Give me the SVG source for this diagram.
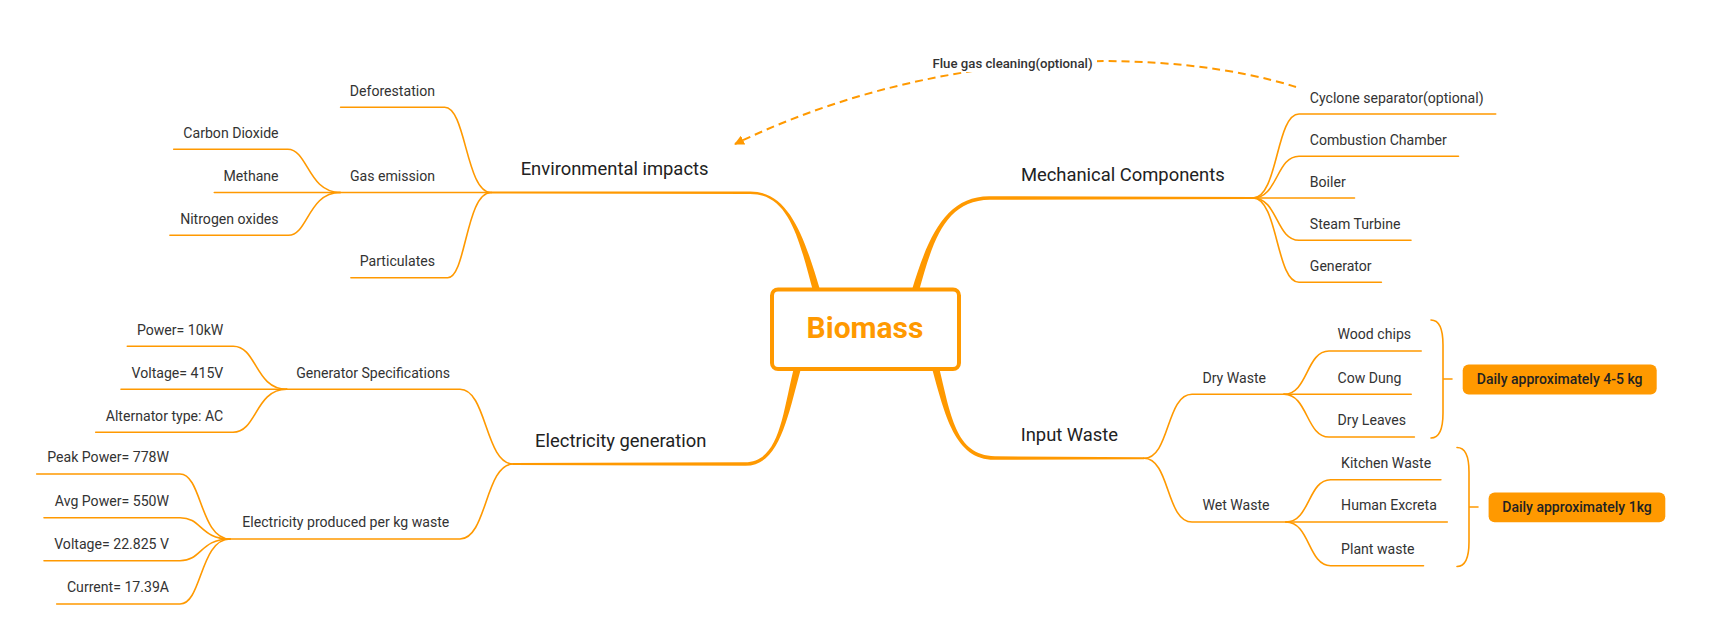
<svg xmlns="http://www.w3.org/2000/svg" width="1718" height="631" viewBox="0 0 1718 631">
<style>
.ln{fill:none;stroke:#FF9900;stroke-width:1.6;stroke-linecap:round}
.tr{fill:#FF9900;stroke:none}
.t{font-family:Roboto,"Liberation Sans",sans-serif;font-size:14.1px;fill:#333}
.e{text-anchor:end}
.m{font-family:Roboto,"Liberation Sans",sans-serif;font-size:18.4px;fill:#222;text-anchor:middle}
.tag{fill:#FF9900;stroke:none}
.tagt{font-family:Roboto,"Liberation Sans",sans-serif;font-size:14px;font-weight:500;fill:#222;text-anchor:middle}
</style>
<defs>
<marker id="arr" viewBox="0 0 10 10" refX="9" refY="5" markerWidth="5" markerHeight="5" orient="auto" markerUnits="strokeWidth">
<path d="M0,0 L10,5 L0,10 Z" fill="#FF9900"/>
</marker>
</defs>
<rect width="1718" height="631" fill="#fff"/>
<g id="connectors">
<path class="tr" d="M820.4,291 C804.8,239.2 790,191.2 750,191.4 L491,191.5 L491,193.5 L750,193.9 C790,193.8 799.2,240.8 813.6,293 Z"/>
<path class="tr" d="M918.4,293 C932.8,240.8 945,200.3 990,199.75 L1253,199 L1253,197 L990,196.25 C945,195.7 927.2,239.2 911.6,291 Z"/>
<path class="tr" d="M794.6,365.1 C782.2,414.3 780,461.7 745,462.25 L513,463 L513,465 L745,465.75 C780,466.3 787.8,415.7 801.4,366.9 Z"/>
<path class="tr" d="M931.6,366.9 C945.2,415.8 955,460.3 995,459.75 L1144,459.3 L1144,457.3 L995,456.25 C955,455.7 950.8,414.2 938.4,365.1 Z"/>
<path class="ln" d="M491,192.5 C466,192.5 466,107.3 444.7,107.3 H340.6"/>
<path class="ln" d="M491,192.5 H340.2"/>
<path class="ln" d="M491,192.5 C466,192.5 466,277.7 447.7,277.7 H350.9"/>
<path class="ln" d="M340.2,192.5 C308,192.5 308,149.3 287.8,149.3 H173.7"/>
<path class="ln" d="M340.2,192.5 H214.3"/>
<path class="ln" d="M340.2,192.5 C308,192.5 308,235.3 288.5,235.3 H169.9"/>
<path class="ln" d="M1253,198 C1278,198 1276,114 1299,114 H1495.7"/>
<path class="ln" d="M1253,198 C1278,198 1276,156.3 1299,156.3 H1458.5"/>
<path class="ln" d="M1253,198 H1354.5"/>
<path class="ln" d="M1253,198 C1278,198 1276,240.3 1299,240.3 H1411"/>
<path class="ln" d="M1253,198 C1278,198 1276,282.3 1299,282.3 H1381.4"/>
<path class="ln" d="M513.3,464 C485,464 487,389.3 460,389.3 H286.7"/>
<path class="ln" d="M513.3,464 C485,464 487,539 460,539 H230"/>
<path class="ln" d="M286.7,389.3 C255,389.3 257,346.3 233.3,346.3 H127.3"/>
<path class="ln" d="M286.7,389.3 H121"/>
<path class="ln" d="M286.7,389.3 C255,389.3 257,432.3 233,432.3 H95.7"/>
<path class="ln" d="M230,539 C200,539 202,474 180,474 H36.7"/>
<path class="ln" d="M230,539 C200,539 202,517.7 180,517.7 H44"/>
<path class="ln" d="M230,539 C200,539 202,560.7 180,560.7 H44"/>
<path class="ln" d="M230,539 C200,539 202,604 180,604 H56.7"/>
<path class="ln" d="M1144,458.3 C1170,458.3 1166,394.3 1192,394.3 H1284"/>
<path class="ln" d="M1144,458.3 C1170,458.3 1166,522 1192,522 H1286"/>
<path class="ln" d="M1284,394.3 C1308,394.3 1306,351 1329,351 H1421.2"/>
<path class="ln" d="M1284,394.3 H1411.2"/>
<path class="ln" d="M1284,394.3 C1308,394.3 1306,437 1329,437 H1414.4"/>
<path class="ln" d="M1286,522 C1310,522 1308,479.7 1330.6,479.7 H1440.9"/>
<path class="ln" d="M1286,522 H1447.3"/>
<path class="ln" d="M1286,522 C1310,522 1308,565.7 1330.6,565.7 H1423.5"/>
<path class="ln" d="M1431,320 C1440,320 1443,330 1443,345 V413 C1443,428 1440,438 1431,438 M1443,379 H1452"/>
<path class="ln" d="M1457,447.5 C1466,447.5 1469,457 1469,472 V542 C1469,557 1466,566.5 1457,566.5 M1469,507 H1478"/>
<path d="M1296,87 C1180,50 950,40 735,144" fill="none" stroke="#FF9900" stroke-width="2" stroke-dasharray="8 5" marker-end="url(#arr)"/>
</g>
<g id="flue-label">
<rect x="930" y="51" width="167" height="21" fill="#fff"/>
<text x="932.5" y="67.5" style="font-family:Roboto,'Liberation Sans',sans-serif;font-size:13.2px;font-weight:500;fill:#333">Flue gas cleaning(optional)</text>
</g>
<g id="biomass">
<rect x="772" y="289.5" width="187" height="79.5" rx="6" fill="#fff" stroke="#FF9900" stroke-width="4"/>
<text x="865" y="338" style="font-family:Roboto,'Liberation Sans',sans-serif;font-size:30px;font-weight:700;fill:#FF9900;text-anchor:middle">Biomass</text>
</g>
<g id="environmental-impacts"><text class="m" x="614.6" y="175">Environmental impacts</text></g>
<g id="deforestation"><text class="t e" x="435" y="95.7">Deforestation</text></g>
<g id="gas-emission"><text class="t e" x="435" y="180.7">Gas emission</text></g>
<g id="particulates"><text class="t e" x="435" y="266">Particulates</text></g>
<g id="carbon-dioxide"><text class="t e" x="278.6" y="137.7">Carbon Dioxide</text></g>
<g id="methane"><text class="t e" x="278.6" y="180.7">Methane</text></g>
<g id="nitrogen-oxides"><text class="t e" x="278.6" y="223.7">Nitrogen oxides</text></g>
<g id="mechanical-components"><text class="m" x="1122.8" y="180.5">Mechanical Components</text></g>
<g id="cyclone"><text class="t" x="1309.8" y="102.5">Cyclone separator(optional)</text></g>
<g id="combustion"><text class="t" x="1309.8" y="144.7">Combustion Chamber</text></g>
<g id="boiler"><text class="t" x="1309.8" y="186.7">Boiler</text></g>
<g id="steam-turbine"><text class="t" x="1309.8" y="228.7">Steam Turbine</text></g>
<g id="generator"><text class="t" x="1309.8" y="270.7">Generator</text></g>
<g id="electricity-generation"><text class="m" x="620.8" y="446.5">Electricity generation</text></g>
<g id="generator-specifications"><text class="t e" x="450" y="377.7">Generator Specifications</text></g>
<g id="electricity-produced"><text class="t e" x="449.3" y="527.4">Electricity produced per kg waste</text></g>
<g id="power"><text class="t e" x="223.3" y="334.7">Power= 10kW</text></g>
<g id="voltage-415"><text class="t e" x="223.3" y="377.7">Voltage= 415V</text></g>
<g id="alternator"><text class="t e" x="223.3" y="420.7">Alternator type: AC</text></g>
<g id="peak-power"><text class="t e" x="169" y="462.4">Peak Power= 778W</text></g>
<g id="avg-power"><text class="t e" x="169" y="506.1">Avg Power= 550W</text></g>
<g id="voltage-22"><text class="t e" x="169" y="549.1">Voltage= 22.825 V</text></g>
<g id="current"><text class="t e" x="169" y="592.4">Current= 17.39A</text></g>
<g id="input-waste"><text class="m" x="1069.4" y="441">Input Waste</text></g>
<g id="dry-waste"><text class="t" x="1202.4" y="382.7">Dry Waste</text></g>
<g id="wet-waste"><text class="t" x="1202.4" y="510.4">Wet Waste</text></g>
<g id="wood-chips"><text class="t" x="1337.5" y="339.4">Wood chips</text></g>
<g id="cow-dung"><text class="t" x="1337.5" y="382.7">Cow Dung</text></g>
<g id="dry-leaves"><text class="t" x="1337.5" y="425.4">Dry Leaves</text></g>
<g id="kitchen-waste"><text class="t" x="1341.1" y="468.1">Kitchen Waste</text></g>
<g id="human-excreta"><text class="t" x="1341.1" y="510.4">Human Excreta</text></g>
<g id="plant-waste"><text class="t" x="1341.1" y="554.1">Plant waste</text></g>
<g id="daily-dry">
<rect class="tag" x="1462.7" y="364.5" width="194" height="30" rx="6"/>
<text class="tagt" x="1559.7" y="384.3">Daily approximately 4-5 kg</text>
</g>
<g id="daily-wet">
<rect class="tag" x="1488.6" y="492.5" width="176.7" height="29.7" rx="6"/>
<text class="tagt" x="1577" y="512.3">Daily approximately 1kg</text>
</g>
</svg>
